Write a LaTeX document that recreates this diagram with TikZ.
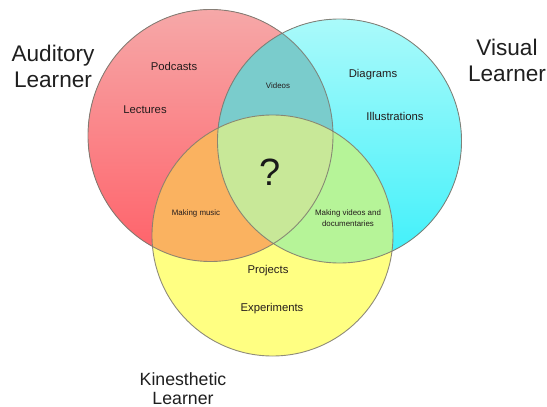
\documentclass[tikz,border=0pt]{standalone}
\usepackage{fontspec}
\setmainfont{Liberation Sans}
\definecolor{redtop}{RGB}{246,168,168}
\definecolor{redbot}{RGB}{255,96,104}
\definecolor{cyantop}{RGB}{170,250,250}
\definecolor{cyanbot}{RGB}{62,240,250}
\definecolor{teal}{RGB}{122,204,204}
\definecolor{yel}{RGB}{255,255,130}
\definecolor{orng}{RGB}{250,178,96}
\definecolor{grn}{RGB}{182,244,152}
\definecolor{mid}{RGB}{200,232,152}
\definecolor{edge}{RGB}{125,120,110}
\definecolor{txt}{RGB}{36,28,28}
\tikzset{
  biglabel/.style={text=black!88, align=center, inner sep=0pt, font=\fontsize{22.6}{26}\selectfont},
  midtext/.style={text=txt, inner sep=0pt, font=\fontsize{11.3}{13}\selectfont},
  smalltext/.style={text=txt, inner sep=0pt, align=center, font=\fontsize{7.9}{11}\selectfont},
  ring/.style={draw=edge, line width=0.9pt, draw opacity=0.85}
}
\begin{document}
\begin{tikzpicture}[x=1pt,y=-1pt]
\useasboundingbox[fill=white] (0,0) rectangle (547,407);
% base circles
\fill[top color=redtop, bottom color=redbot] (210.5,135.5) ellipse [x radius=122.5, y radius=126];
\fill[top color=cyantop, bottom color=cyanbot] (339.5,141) circle [radius=122];
% red and cyan overlap
\begin{scope}
  \clip (210.5,135.5) ellipse [x radius=122.5, y radius=126];
  \fill[teal] (339.5,141) circle [radius=122];
\end{scope}
% yellow
\fill[yel] (272.5,235.5) circle [radius=120.5];
\begin{scope}
  \clip (272.5,235.5) circle [radius=120.5];
  \fill[orng] (210.5,135.5) ellipse [x radius=122.5, y radius=126];
  \fill[grn] (339.5,141) circle [radius=122];
  \clip (210.5,135.5) ellipse [x radius=122.5, y radius=126];
  \fill[mid] (339.5,141) circle [radius=122];
\end{scope}
% outlines
\draw[ring] (210.5,135.5) ellipse [x radius=122.5, y radius=126];
\draw[ring] (339.5,141) circle [radius=122];
\draw[ring] (272.5,235.5) circle [radius=120.5];
% labels
\node[biglabel] (aud) at (53,66) {Auditory\\Learner};
\node[biglabel] (vis) at (507,60) {Visual\\Learner};
\node[biglabel, font=\fontsize{17.7}{19.5}\selectfont] (kin) at (183,388.5) {Kinesthetic\\Learner};
\node[midtext] (pod) at (174,66) {Podcasts};
\node[midtext] (lec) at (145,110) {Lectures};
\node[smalltext] (vid) at (278,86) {Videos};
\node[midtext] (dia) at (373,75) {Diagrams};
\node[midtext] (ill) at (395,116) {Illustrations};
\node[text=black!90, inner sep=0pt, font=\fontsize{38}{40}\selectfont] (q) at (270,172) {?};
\node[smalltext] (mus) at (196,213) {Making music};
\node[smalltext, font=\fontsize{7.9}{10.8}\selectfont] (mvd) at (348,218.5) {Making videos and\\documentaries};
\node[midtext] (pro) at (268,271) {Projects};
\node[midtext] (exp) at (272,309) {Experiments};
\end{tikzpicture}
\end{document}
